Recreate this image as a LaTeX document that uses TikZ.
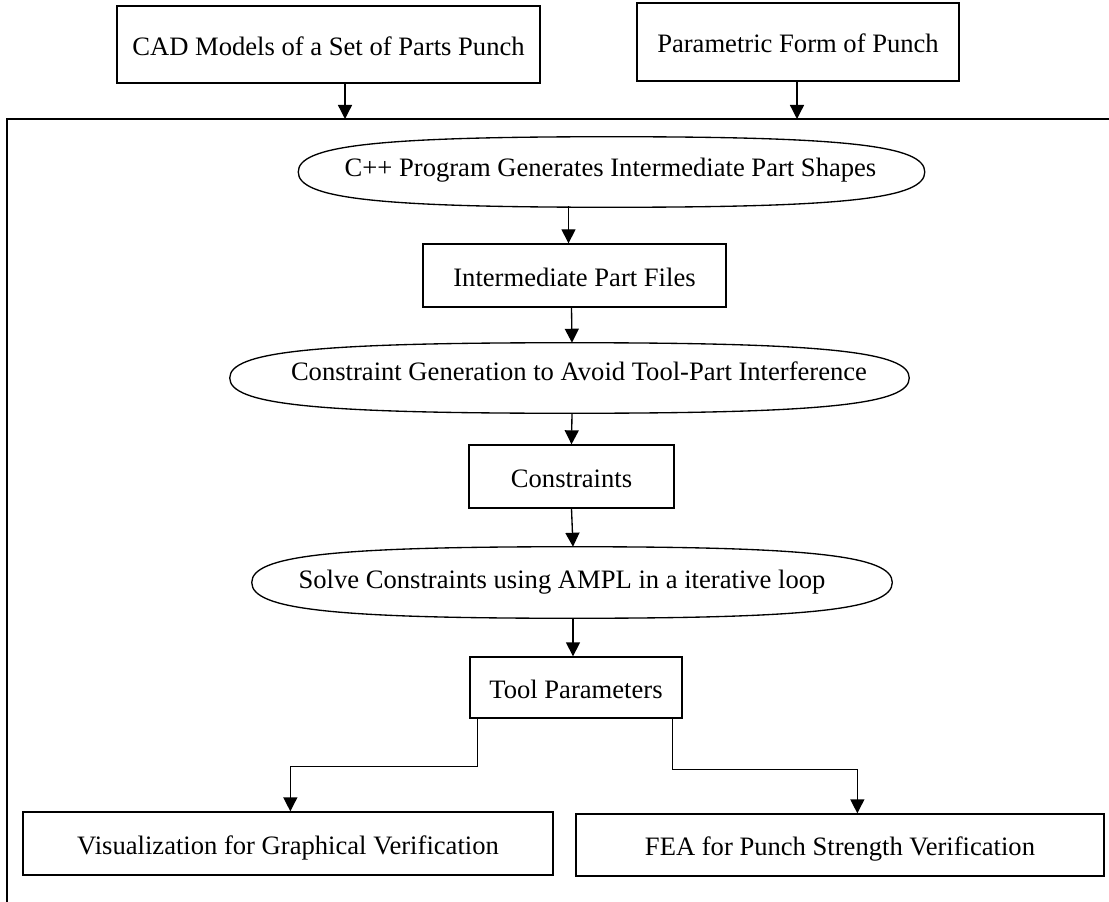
\documentclass[tikz,border=0pt]{standalone}
\usepackage{fontspec}
\setmainfont{Liberation Serif}
\usetikzlibrary{arrows.meta,calc}
\newcommand{\pxu}{0.75pt}
\newcommand{\kap}{0.75}
% draw a rounded (super-)ellipse inside the bounding rectangle of node #1
\newcommand{\roundell}[1]{%
  \draw[line width=1pt]
    (#1.north) .. controls ($(#1.north)!\kap!(#1.north east)$) and ($(#1.east)!\kap!(#1.north east)$) .. (#1.east)
    .. controls ($(#1.east)!\kap!(#1.south east)$) and ($(#1.south)!\kap!(#1.south east)$) .. (#1.south)
    .. controls ($(#1.south)!\kap!(#1.south west)$) and ($(#1.west)!\kap!(#1.south west)$) .. (#1.west)
    .. controls ($(#1.west)!\kap!(#1.north west)$) and ($(#1.north)!\kap!(#1.north west)$) .. (#1.north) -- cycle;}
\begin{document}
\begin{tikzpicture}[x=0.75pt,y=-0.75pt,
  every node/.style={font=\fontsize{19.95pt}{24pt}\selectfont},
  box/.style={draw, line width=1pt, rectangle, inner sep=0pt, text height=16pt, text depth=0pt},
  ellarea/.style={rectangle, inner sep=0pt},
  lbl/.style={inner sep=0pt, text height=13.2pt, text depth=0pt},
  arr/.style={-{Triangle[length=10.5pt,width=10.5pt]}, line width=1pt},
  frame/.style={line width=1pt}]
\useasboundingbox (0,0) rectangle (1109,902);

% outer frame (only top and left edges visible)
\coordinate (ftr) at (1109,119);
\coordinate (ftl) at (7,119);
\coordinate (fbl) at (7,902);
\draw[frame] (ftr) -- (ftl) -- (fbl);

% inputs
\node[box, minimum width=423*\pxu, minimum height=77*\pxu] (cad) at (328.5,44.5) {CAD Models of a Set of Parts Punch};
\node[box, minimum width=322*\pxu, minimum height=78*\pxu] (param) at (798,42) {Parametric Form of Punch};
\coordinate (in1) at (345,119);
\coordinate (in2) at (797,119);
\draw[arr] (cad.south -| in1) -- (in1);
\draw[arr] (param.south -| in2) -- (in2);

% main chain
\node[ellarea, minimum width=626*\pxu, minimum height=70*\pxu] (e1) at (611.5,172) {};
\roundell{e1}
\node[lbl] (e1t) at (610.5,168) {C++ Program Generates Intermediate Part Shapes};

\node[box, minimum width=303*\pxu, minimum height=63*\pxu] (ipf) at (574.5,275.5) {Intermediate Part Files};

\node[ellarea, minimum width=679*\pxu, minimum height=70*\pxu] (e2) at (569.5,378) {};
\roundell{e2}
\node[lbl] (e2t) at (579,372) {Constraint Generation to Avoid Tool-Part Interference};

\node[box, minimum width=205*\pxu, minimum height=63*\pxu] (cons) at (571.5,476.5) {Constraints};

\node[ellarea, minimum width=640*\pxu, minimum height=71*\pxu] (e3) at (572,582.5) {};
\roundell{e3}
\node[lbl] (e3t) at (562,580) {Solve Constraints using AMPL in a iterative loop};

\node[box, minimum width=212*\pxu, minimum height=61*\pxu] (tool) at (576,687.5) {Tool Parameters};

\node[box, minimum width=530*\pxu, minimum height=63*\pxu] (vis) at (288,843.5) {Visualization for Graphical Verification};
\node[box, minimum width=528*\pxu, minimum height=62*\pxu] (fea) at (840,845) {FEA for Punch Strength Verification};

% connectors
\draw[arr] ($(ipf.north)+(-6,-37)$) -- ($(ipf.north)+(-6,0)$);
\draw[arr] ($(ipf.south)+(-3,0)$) -- ($(e2.north)+(2.5,0)$);
\draw[arr] ($(e2.south)+(2.5,0)$) -- (cons.north);
\draw[arr] (cons.south) -- ($(e3.north)+(1,0)$);
\draw[arr] ($(e3.south)+(1,0)$) -- ($(tool.north)+(-3,0)$);

\draw[arr] ($(tool.south west)+(8,0)$) -- ++(0,48) -| ($(vis.north west)+(268,0)$);
\draw[arr] ($(tool.south west)+(203,0)$) -- ++(0,51) -| ($(fea.north west)+(282,0)$);
\end{tikzpicture}
\end{document}
